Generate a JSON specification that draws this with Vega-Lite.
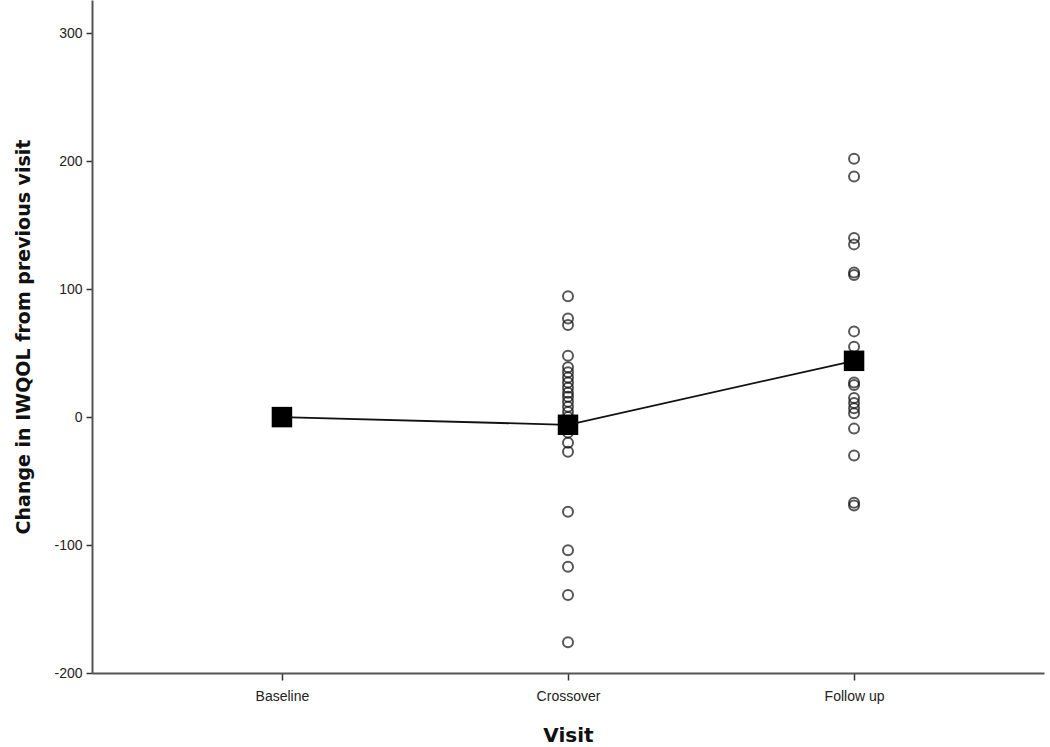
{
  "$schema": "https://vega.github.io/schema/vega-lite/v6.json",
  "width": 952,
  "height": 673,
  "autosize": {"type": "none"},
  "padding": {"left": 92, "top": 0, "right": 6, "bottom": 74},
  "background": "white",
  "config": {
    "view": {"stroke": null},
    "font": "Liberation Sans",
    "axis": {"grid": false, "domainColor": "#555555", "domainWidth": 2, "tickColor": "#333333", "tickSize": 6, "tickWidth": 1.5, "labelColor": "#222222", "labelFontSize": 14, "titleColor": "#111111", "titleFont": "DejaVu Sans", "titleFontWeight": "bold"}
  },
  "datasets": {
    "points": [
      {"visit": "Crossover", "change": 94.5},
      {"visit": "Crossover", "change": 77},
      {"visit": "Crossover", "change": 72},
      {"visit": "Crossover", "change": 48},
      {"visit": "Crossover", "change": 39},
      {"visit": "Crossover", "change": 35},
      {"visit": "Crossover", "change": 31},
      {"visit": "Crossover", "change": 27},
      {"visit": "Crossover", "change": 23},
      {"visit": "Crossover", "change": 19},
      {"visit": "Crossover", "change": 16},
      {"visit": "Crossover", "change": 12},
      {"visit": "Crossover", "change": 8},
      {"visit": "Crossover", "change": 4},
      {"visit": "Crossover", "change": 0},
      {"visit": "Crossover", "change": -5},
      {"visit": "Crossover", "change": -12},
      {"visit": "Crossover", "change": -20},
      {"visit": "Crossover", "change": -27},
      {"visit": "Crossover", "change": -74},
      {"visit": "Crossover", "change": -104},
      {"visit": "Crossover", "change": -117},
      {"visit": "Crossover", "change": -139},
      {"visit": "Crossover", "change": -176},
      {"visit": "Follow up", "change": 202},
      {"visit": "Follow up", "change": 188},
      {"visit": "Follow up", "change": 140},
      {"visit": "Follow up", "change": 135},
      {"visit": "Follow up", "change": 113},
      {"visit": "Follow up", "change": 111},
      {"visit": "Follow up", "change": 67},
      {"visit": "Follow up", "change": 55},
      {"visit": "Follow up", "change": 44},
      {"visit": "Follow up", "change": 27},
      {"visit": "Follow up", "change": 25},
      {"visit": "Follow up", "change": 15},
      {"visit": "Follow up", "change": 11},
      {"visit": "Follow up", "change": 7},
      {"visit": "Follow up", "change": 3},
      {"visit": "Follow up", "change": -9},
      {"visit": "Follow up", "change": -30},
      {"visit": "Follow up", "change": -67},
      {"visit": "Follow up", "change": -69}
    ],
    "means": [
      {"visit": "Baseline", "mean": 0},
      {"visit": "Crossover", "mean": -6},
      {"visit": "Follow up", "mean": 44}
    ]
  },
  "encoding": {
    "x": {
      "field": "visit", "type": "nominal",
      "sort": ["Baseline", "Crossover", "Follow up"],
      "scale": {"type": "point", "padding": 0.664, "domain": ["Baseline", "Crossover", "Follow up"]},
      "axis": {"title": "Visit", "labelAngle": 0, "titleFontSize": 20, "titlePadding": 22, "labelPadding": 9, "tickSize": 7}
    }
  },
  "layer": [
    {
      "data": {"name": "means"},
      "mark": {"type": "line", "color": "#111111", "strokeWidth": 1.8},
      "encoding": {
        "y": {"field": "mean", "type": "quantitative",
          "scale": {"domain": [-200, 326], "nice": false, "zero": false},
          "axis": {"title": "Change in IWQOL from previous visit", "values": [-200, -100, 0, 100, 200, 300], "labelExpr": "datum.value + ''", "titleFontSize": 19, "titlePadding": 20, "labelPadding": 4}}
      }
    },
    {
      "data": {"name": "points"},
      "mark": {"type": "point", "shape": "circle", "filled": false, "color": "#111111", "strokeWidth": 2, "size": 100},
      "encoding": {
        "y": {"field": "change", "type": "quantitative"}
      }
    },
    {
      "data": {"name": "means"},
      "mark": {"type": "square", "color": "#000000", "size": 420, "opacity": 1},
      "encoding": {
        "y": {"field": "mean", "type": "quantitative"}
      }
    }
  ]
}
